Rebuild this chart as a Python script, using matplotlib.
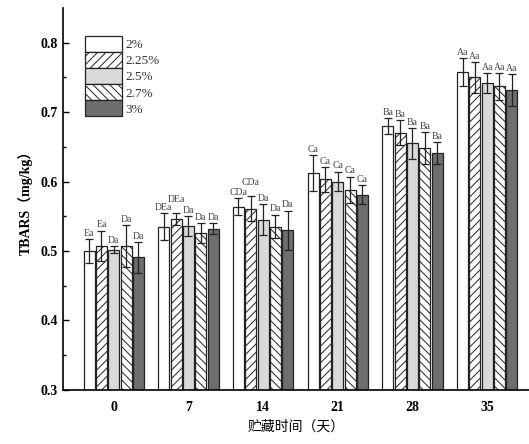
import matplotlib
matplotlib.use("Agg")
import matplotlib.pyplot as plt
import numpy as np

days = ["0", "7", "14", "21", "28", "35"]
series = ["2%", "2.25%", "2.5%", "2.7%", "3%"]
values = [
    [0.500, 0.535, 0.564, 0.612, 0.680, 0.758],
    [0.507, 0.546, 0.561, 0.603, 0.670, 0.750],
    [0.502, 0.536, 0.545, 0.600, 0.655, 0.742],
    [0.507, 0.526, 0.535, 0.588, 0.648, 0.737],
    [0.491, 0.532, 0.530, 0.581, 0.641, 0.732],
]
errors = [
    [0.017, 0.019, 0.012, 0.026, 0.011, 0.020],
    [0.022, 0.009, 0.018, 0.018, 0.018, 0.022],
    [0.005, 0.014, 0.022, 0.014, 0.022, 0.014],
    [0.030, 0.014, 0.017, 0.019, 0.023, 0.019],
    [0.022, 0.008, 0.028, 0.014, 0.016, 0.023],
]
letters = [
    ["Ea", "DEa", "CDa", "Ca", "Ba", "Aa"],
    ["Ea", "DEa", "CDa", "Ca", "Ba", "Aa"],
    ["Da", "Da", "Da", "Ca", "Ba", "Aa"],
    ["Da", "Da", "Da", "Ca", "Ba", "Aa"],
    ["Da", "Da", "Da", "Ca", "Ba", "Aa"],
]

faces = ["white", "white", "#d9d9d9", "white", "#6e6e6e"]
hatches = [None, "////", None, "\\\\\\\\", None]

plt.rcParams["hatch.linewidth"] = 0.7
plt.rcParams["hatch.color"] = "#555555"
serif = ["Liberation Serif", "DejaVu Serif"]

fig = plt.figure(figsize=(5.29, 4.44), dpi=100)
ax = fig.add_axes([0.119, 0.122, 0.881, 0.860])

x = np.arange(len(days))
w = 0.165
for i, s in enumerate(series):
    pos = x + (i - 2) * w
    ax.bar(pos, values[i], width=w * 0.9, color=faces[i], edgecolor="#222222",
           linewidth=0.9, hatch=hatches[i], label=s, zorder=2)
    ax.errorbar(pos, values[i], yerr=errors[i], fmt="none", ecolor="#222222",
                elinewidth=0.9, capsize=3, capthick=0.9, zorder=3)
    for j in range(len(days)):
        lab = letters[i][j]
        # stagger long labels of neighbouring bars so they stay legible
        extra = 0.011 if (i % 2 == 1 and len(lab) == 3) else 0.0
        ax.text(pos[j], values[i][j] + errors[i][j] + 0.002 + extra, lab,
                ha="center", va="bottom", fontsize=7, color="#444444",
                family=serif)

ax.set_ylim(0.3, 0.85)
ax.set_xlim(-0.68, 5.56)
ax.set_yticks([0.3, 0.4, 0.5, 0.6, 0.7, 0.8])
ax.set_yticks(np.arange(0.35, 0.85, 0.1), minor=True)
ax.set_xticks(x)
ax.set_xticklabels(days)
for lab in ax.get_xticklabels() + ax.get_yticklabels():
    lab.set_family(serif)
    lab.set_fontweight("bold")
    lab.set_fontsize(10)
ax.tick_params(axis="y", direction="in", length=4, width=1)
ax.tick_params(axis="y", which="minor", direction="in", length=2.5, width=1)
ax.tick_params(axis="x", length=0, pad=8)
ax.spines["top"].set_visible(False)
ax.spines["right"].set_visible(False)
ax.spines["left"].set_linewidth(1.2)
ax.spines["bottom"].set_linewidth(1.2)

ax.set_ylabel("TBARS（mg/kg）", fontsize=10, fontweight="bold",
              family=["Liberation Serif", "Noto Sans CJK SC"], labelpad=6)
ax.set_xlabel("贮藏时间（天）", fontsize=10,
              family=["Noto Sans CJK SC"], labelpad=4)

leg = ax.legend(loc="upper left", bbox_to_anchor=(0.047, 0.927), frameon=False,
                handlelength=2.8, handleheight=1.5, labelspacing=0.0,
                handletextpad=0.25, borderaxespad=0.0, borderpad=0.0,
                prop={"family": serif, "size": 9.5})
for t in leg.get_texts():
    t.set_color("#333333")

fig.savefig("out.png", dpi=100)
